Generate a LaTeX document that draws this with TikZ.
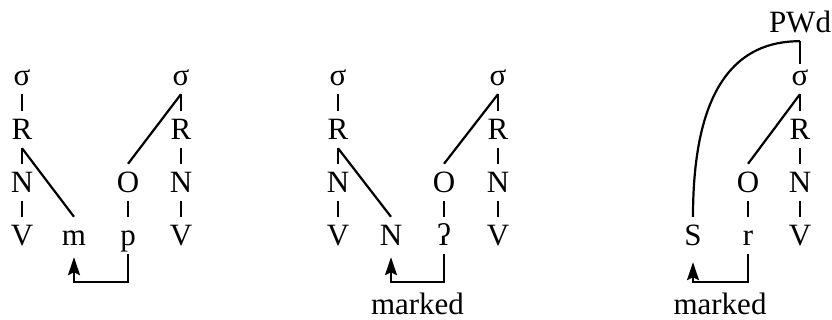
\documentclass[tikz,border=0pt]{standalone}
\usepackage{fontspec}
\setmainfont{Liberation Serif}
\usetikzlibrary{arrows.meta}
\begin{document}
\begin{tikzpicture}[x=1pt,y=-1pt,
  lab/.style={font=\fontsize{31}{36}\selectfont, anchor=base, inner xsep=1pt, inner ysep=8pt, text height=21pt, text depth=0pt},
  sig/.style={lab, text height=14pt},
  note/.style={lab, inner ysep=0pt},
  ln/.style={line width=2.2pt},
  arr/.style={line width=2.2pt, -{Stealth[length=18pt,width=12pt,inset=3pt]}, shorten >=3pt}]
\useasboundingbox (0,0) rectangle (832,320);
% group 1
\node[sig] (a1) at (22,86) {σ};
\node[lab] (a2) at (22,140) {R};
\node[lab] (a3) at (22,193) {N};
\node[lab] (a4) at (22,246) {V};
\node[lab] (a5) at (74,246) {m};
\node[lab] (a6) at (128,193) {O};
\node[lab] (a7) at (128,246) {p};
\node[sig] (a8) at (181,86) {σ};
\node[lab] (a9) at (181,140) {R};
\node[lab] (a10) at (181,193) {N};
\node[lab] (a11) at (181,246) {V};
\draw[ln] (a1.south) -- (a2.north);
\draw[ln] (a2.south) -- (a3.north);
\draw[ln] (a3.south) -- (a4.north);
\draw[ln] (a2.south) -- (a5.north);
\draw[ln] (a6.south) -- (a7.north);
\draw[ln] (a6.north) -- (a8.south);
\draw[ln] (a8.south) -- (a9.north);
\draw[ln] (a9.south) -- (a10.north);
\draw[ln] (a10.south) -- (a11.north);
\draw[arr] (a7.south) -- ++(0,28) -| (a5.south);
% group 2
\node[sig] (b1) at (338,86) {σ};
\node[lab] (b2) at (338,140) {R};
\node[lab] (b3) at (338,193) {N};
\node[lab] (b4) at (338,246) {V};
\node[lab] (b5) at (391,246) {N};
\node[lab] (b6) at (444,193) {O};
\node[lab] (b7) at (444,246) {ʔ};
\node[sig] (b8) at (498,86) {σ};
\node[lab] (b9) at (498,140) {R};
\node[lab] (b10) at (498,193) {N};
\node[lab] (b11) at (498,246) {V};
\node[note] (b12) at (417.5,314) {marked};
\draw[ln] (b1.south) -- (b2.north);
\draw[ln] (b2.south) -- (b3.north);
\draw[ln] (b3.south) -- (b4.north);
\draw[ln] (b2.south) -- (b5.north);
\draw[ln] (b6.south) -- (b7.north);
\draw[ln] (b6.north) -- (b8.south);
\draw[ln] (b8.south) -- (b9.north);
\draw[ln] (b9.south) -- (b10.north);
\draw[ln] (b10.south) -- (b11.north);
\draw[arr] (b7.south) -- ++(0,28) -| (b5.south);
% group 3
\node[lab] (c0) at (800,33) {PWd};
\node[lab] (c5) at (693,246) {S};
\node[lab] (c6) at (748,193) {O};
\node[lab] (c7) at (748,246) {r};
\node[sig] (c8) at (800,86) {σ};
\node[lab] (c9) at (800,140) {R};
\node[lab] (c10) at (800,193) {N};
\node[lab] (c11) at (800,246) {V};
\node[note] (c12) at (720,314) {marked};
\draw[ln] (c5.north) .. controls (693,85) and (738,41) .. (c0.south);
\draw[ln] (c0.south) -- (c8.north);
\draw[ln] (c6.south) -- (c7.north);
\draw[ln] (c6.north) -- (c8.south);
\draw[ln] (c8.south) -- (c9.north);
\draw[ln] (c9.south) -- (c10.north);
\draw[ln] (c10.south) -- (c11.north);
\draw[arr, shorten >=8pt] (c7.south) -- ++(0,28) -| (c5.south);
\end{tikzpicture}
\end{document}
